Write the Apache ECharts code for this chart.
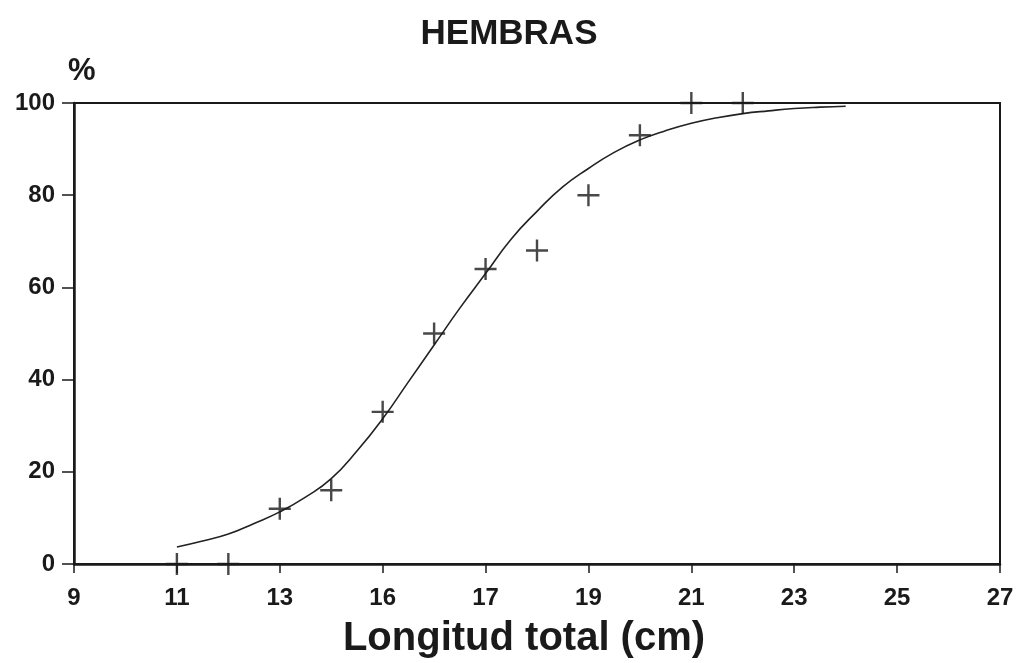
<!DOCTYPE html>
<html lang="en">
<head>
  <meta charset="UTF-8">
  <title>HEMBRAS</title>
  <script type="text/javascript" src="https://cdn.jsdelivr.net/npm/echarts@6/dist/echarts.min.js"></script>
</head>
<body style="margin:0;background:#fff">
<div id="main" style="width:1018px;height:663px;"></div>
<script type="text/javascript">
  // tick labels as printed on the original (the 15 position is labelled "16")
  var xTickValues = [9, 11, 13, 15, 17, 19, 21, 23, 25, 27];
  var xTickLabels = ['9', '11', '13', '16', '17', '19', '21', '23', '25', '27'];

  // observed percentages (crosses)
  var obsLength = [11, 12, 13, 14, 15, 16, 17, 18, 19, 20, 21, 22];
  var obsPct    = [0, 0, 12, 16, 33, 50, 64, 68, 80, 93, 100, 100];

  // fitted curve
  var fitLength = [11, 11.5, 12, 12.5, 13, 13.5, 14, 14.5, 15, 15.5, 16, 16.5, 17, 17.5,
                   18, 18.5, 19, 19.5, 20, 20.5, 21, 21.5, 22, 22.5, 23, 23.5, 24];
  var fitPct    = [3.7, 5.0, 6.5, 8.8, 11.3, 14.5, 18.5, 24.5, 31.5, 39.5, 47.5, 55.5, 63.0, 70.5,
                   76.5, 81.8, 85.8, 89.3, 92.0, 94.0, 95.6, 96.8, 97.7, 98.3, 98.8, 99.1, 99.3];

  var pair = function (xs, ys) {
    return xs.map(function (x, i) { return [x, ys[i]]; });
  };

  var cross = 'path://M9.8,0H12.2V9.8H22V12.2H12.2V22H9.8V12.2H0V9.8H9.8Z';
  var font = 'Liberation Sans, Arial, sans-serif';
  var ink = '#1a1a1a';

  var myChart = echarts.init(document.getElementById('main'));
  myChart.setOption({
    animation: false,
    backgroundColor: '#fff',
    title: {
      text: 'HEMBRAS',
      left: 'center',
      top: 12,
      textStyle: { fontFamily: font, fontWeight: 'bold', fontSize: 35, color: ink }
    },
    grid: {
      left: 74, right: 18, top: 103, bottom: 99,
      outerBoundsMode: 'none',
      containLabel: false,
      show: true,
      borderColor: ink,
      borderWidth: 2
    },
    xAxis: {
      type: 'value',
      min: 9, max: 27, interval: 2,
      name: 'Longitud total (cm)',
      nameLocation: 'middle',
      nameGap: 55,
      nameTextStyle: { fontFamily: font, fontWeight: 'bold', fontSize: 40, color: ink, padding: [0, 26, 0, 0] },
      axisLine: { lineStyle: { color: ink, width: 2.5 } },
      axisTick: { show: true, length: 9, lineStyle: { color: ink, width: 1.5 } },
      splitLine: { show: false },
      axisLabel: {
        margin: 22,
        fontFamily: font, fontWeight: 'bold', fontSize: 24, color: ink,
        formatter: function (v) {
          var i = xTickValues.indexOf(v);
          return i >= 0 ? xTickLabels[i] : '';
        }
      }
    },
    yAxis: {
      type: 'value',
      min: 0, max: 100, interval: 20,
      name: '%',
      nameLocation: 'end',
      nameGap: 16,
      nameTextStyle: { fontFamily: font, fontWeight: 'bold', fontSize: 31, color: ink, align: 'left', padding: [0, 0, 0, -6] },
      axisLine: { show: true, lineStyle: { color: ink, width: 2.5 } },
      axisTick: { show: true, length: 12, lineStyle: { color: ink, width: 1.5 } },
      splitLine: { show: false },
      axisLabel: {
        margin: 19,
        fontFamily: font, fontWeight: 'bold', fontSize: 24, color: ink
      }
    },
    series: [
      {
        name: 'Ajuste',
        type: 'line',
        data: pair(fitLength, fitPct),
        smooth: true,
        showSymbol: false,
        lineStyle: { color: '#222', width: 1.6 }
      },
      {
        name: 'Observado',
        type: 'scatter',
        data: pair(obsLength, obsPct),
        symbol: cross,
        symbolSize: 22,
        itemStyle: { color: ink },
        z: 5
      }
    ]
  });
</script>
</body>
</html>
